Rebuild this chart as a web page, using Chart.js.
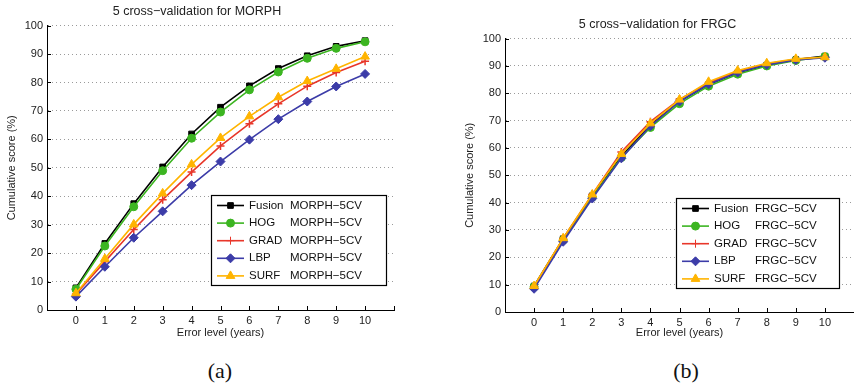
<!DOCTYPE html>
<html>
<head>
<meta charset="utf-8">
<script src="https://cdn.jsdelivr.net/npm/chart.js@4/dist/chart.umd.min.js"></script>
<style>
  body { margin: 0; background: #fff; width: 854px; height: 387px; position: relative; overflow: hidden; }
  #morph { position: absolute; left: 0; top: 0; }
  #frgc { position: absolute; left: 455px; top: 0; }
  .cap { position: absolute; top: 360px; width: 60px; text-align: center; font: 22px "Liberation Serif", "DejaVu Serif", serif; line-height: 1; color: #111; }
</style>
</head>
<body>
<canvas id="morph" width="400" height="345"></canvas>
<canvas id="frgc" width="405" height="345"></canvas>
<div class="cap" style="left:190px">(a)</div>
<div class="cap" style="left:656px">(b)</div>
<script>
// Data ---------------------------------------------
const errorLevels = [0, 1, 2, 3, 4, 5, 6, 7, 8, 9, 10];
const methods = ['Fusion', 'HOG', 'GRAD', 'LBP', 'SURF'];

// MORPH, 5 fold cross validation
const morphFusion = [7.8, 23.4, 37.4, 50.3, 61.9, 71.3, 78.8, 84.9, 89.4, 92.7, 94.7];
const morphHog    = [7.3, 22.5, 36.3, 49.0, 60.4, 69.6, 77.4, 83.7, 88.5, 92.0, 94.3];
const morphGrad   = [5.6, 17.0, 28.3, 38.8, 48.5, 57.7, 65.5, 72.5, 78.7, 83.5, 87.5];
const morphLbp    = [4.7, 15.2, 25.4, 34.7, 43.9, 52.2, 59.9, 67.1, 73.3, 78.6, 83.0];
const morphSurf   = [5.9, 18.0, 30.1, 41.0, 51.2, 60.5, 68.1, 74.8, 80.5, 84.8, 89.1];

// FRGC, 5 fold cross validation
const frgcFusion = [9.5, 26.8, 42.5, 57.0, 68.5, 77.0, 83.2, 87.5, 90.3, 92.3, 93.6];
const frgcHog    = [9.2, 26.3, 42.0, 56.5, 67.5, 76.2, 82.6, 87.0, 90.0, 92.0, 93.4];
const frgcGrad   = [9.3, 26.9, 43.0, 58.5, 69.6, 77.8, 83.8, 88.0, 90.8, 92.4, 93.2];
const frgcLbp    = [8.5, 25.7, 41.5, 56.2, 68.0, 77.0, 83.3, 87.6, 90.4, 92.2, 93.0];
const frgcSurf   = [9.5, 27.0, 43.0, 57.8, 69.0, 77.7, 84.2, 88.3, 91.0, 92.6, 93.2];

const yTicks = [0, 10, 20, 30, 40, 50, 60, 70, 80, 90, 100];

// Styles -------------------------------------------
const lineColors = ['#000000', '#3cb521', '#e8372a', '#3c3ca8', '#ffb400'];
const markers = ['rect', 'circle', 'cross', 'rectRot', 'triangle'];
const markerSize = [4, 4, 4, 4.5, 5];
const font = '"Liberation Sans", Arial, sans-serif';

Chart.defaults.font.family = font;
Chart.defaults.color = '#222';

// draws short inward tick marks like matlab
const innerTicks = {
  id: 'innerTicks',
  beforeDatasetsDraw(chart) {
    const {ctx, scales: {x, y}} = chart;
    ctx.save();
    ctx.strokeStyle = '#000';
    ctx.lineWidth = 1;
    ctx.beginPath();
    x.ticks.forEach(t => {
      const px = Math.round(x.getPixelForValue(t.value)) + 0.5;
      ctx.moveTo(px, y.bottom); ctx.lineTo(px, y.bottom - 4);
    });
    y.ticks.forEach(t => {
      const py = Math.round(y.getPixelForValue(t.value)) + 0.5;
      ctx.moveTo(x.left, py); ctx.lineTo(x.left + 4, py);
    });
    ctx.stroke();
    ctx.restore();
  }
};

// legend box inside the plot, bottom right
const boxLegend = {
  id: 'boxLegend',
  afterDraw(chart, args, opts) {
    const {ctx, chartArea: a} = chart;
    const x0 = a.right - opts.right - opts.width;
    const y0 = a.bottom - opts.bottom - opts.height;
    ctx.save();
    ctx.fillStyle = '#fff';
    ctx.fillRect(x0, y0, opts.width, opts.height);
    ctx.strokeStyle = '#000';
    ctx.lineWidth = 1.2;
    ctx.strokeRect(Math.round(x0) + 0.5, Math.round(y0) + 0.5, opts.width, opts.height);
    ctx.font = '11.5px ' + font;
    ctx.textBaseline = 'middle';
    chart.data.datasets.forEach((ds, i) => {
      const yy = y0 + 10.5 + i * 17.6;
      ctx.strokeStyle = ds.borderColor;
      ctx.lineWidth = 1.6;
      ctx.beginPath(); ctx.moveTo(x0 + 6, yy); ctx.lineTo(x0 + 33, yy); ctx.stroke();
      ctx.fillStyle = ds.pointBackgroundColor;
      ctx.lineWidth = 1;
      Chart.helpers.drawPoint(ctx, {pointStyle: ds.pointStyle, radius: ds.pointRadius, borderWidth: ds.pointBorderWidth, rotation: 0}, x0 + 19.5, yy);
      ctx.fillStyle = '#111';
      ctx.fillText(ds.label, x0 + 38, yy);
      ctx.fillText(opts.suffix, x0 + 79, yy);
    });
    ctx.restore();
  }
};

function makeChart(id, title, series, suffix, opt) {
  const datasets = series.map((vals, i) => ({
    label: methods[i],
    data: errorLevels.map((x, j) => ({x: x, y: vals[j]})),
    borderColor: lineColors[i],
    backgroundColor: lineColors[i],
    pointBackgroundColor: lineColors[i],
    pointBorderColor: lineColors[i],
    pointStyle: markers[i],
    pointRadius: markerSize[i],
    pointBorderWidth: markers[i] === 'cross' ? 1.5 : 1,
    borderWidth: 1.6,
    tension: 0,
    order: series.length - 1 - i   // last series drawn on top, as in matlab
  }));

  return new Chart(document.getElementById(id), {
    type: 'line',
    data: {datasets: datasets},
    plugins: [innerTicks, boxLegend],
    options: {
      responsive: false,
      animation: false,
      layout: {padding: {left: 0, right: opt.padRight, top: 0, bottom: 0}},
      plugins: {
        legend: {display: false},
        tooltip: {enabled: false},
        title: {
          display: true,
          text: title,
          color: '#222',
          font: {size: 12.5, weight: 'normal'},
          padding: {top: opt.titleTop, bottom: opt.titleBottom}
        },
        boxLegend: {suffix: suffix, width: opt.legW, height: 90, right: opt.legRight, bottom: opt.legBottom}
      },
      scales: {
        x: {
          type: 'linear',
          min: -1,
          max: 11,
          afterFit: s => { s.height = opt.xHeight; },
          ticks: {
            stepSize: 1,
            autoSkip: false,
            maxRotation: 0,
            padding: 4,
            color: '#222',
            font: {size: 11},
            callback: v => (v < 0 || v > 10) ? '' : v
          },
          grid: {display: false, drawTicks: false},
          border: {display: true, color: '#000', width: 1},
          title: {display: true, text: 'Error level (years)', color: '#222', font: {size: 11}, padding: {top: 0, bottom: 5.4}}
        },
        y: {
          min: 0,
          max: 100,
          afterFit: s => { s.width = opt.yWidth; },
          afterBuildTicks: s => { s.ticks = yTicks.map(v => ({value: v})); },
          ticks: {padding: 4, color: '#222', font: {size: 11}},
          grid: {color: '#9a9a9a', lineWidth: 1, drawTicks: false},
          border: {display: true, color: '#000', width: 1, dash: [1, 3]},
          title: {display: true, text: 'Cumulative score (%)', color: '#222', font: {size: 11}, padding: {top: opt.yTitlePad, bottom: 0}}
        }
      }
    }
  });
}

makeChart('morph', '5 cross\u2212validation for MORPH',
  [morphFusion, morphHog, morphGrad, morphLbp, morphSurf], 'MORPH\u22125CV',
  {padRight: 6, titleTop: 4, titleBottom: 6.6, xHeight: 35, yWidth: 47, yTitlePad: 5.4,
   legW: 175, legRight: 8, legBottom: 25});

makeChart('frgc', '5 cross\u2212validation for FRGC',
  [frgcFusion, frgcHog, frgcGrad, frgcLbp, frgcSurf], 'FRGC\u22125CV',
  {padRight: 0, titleTop: 17, titleBottom: 6.6, xHeight: 33, yWidth: 50, yTitlePad: 8.4,
   legW: 163, legRight: 15, legBottom: 24});
</script>
</body>
</html>
